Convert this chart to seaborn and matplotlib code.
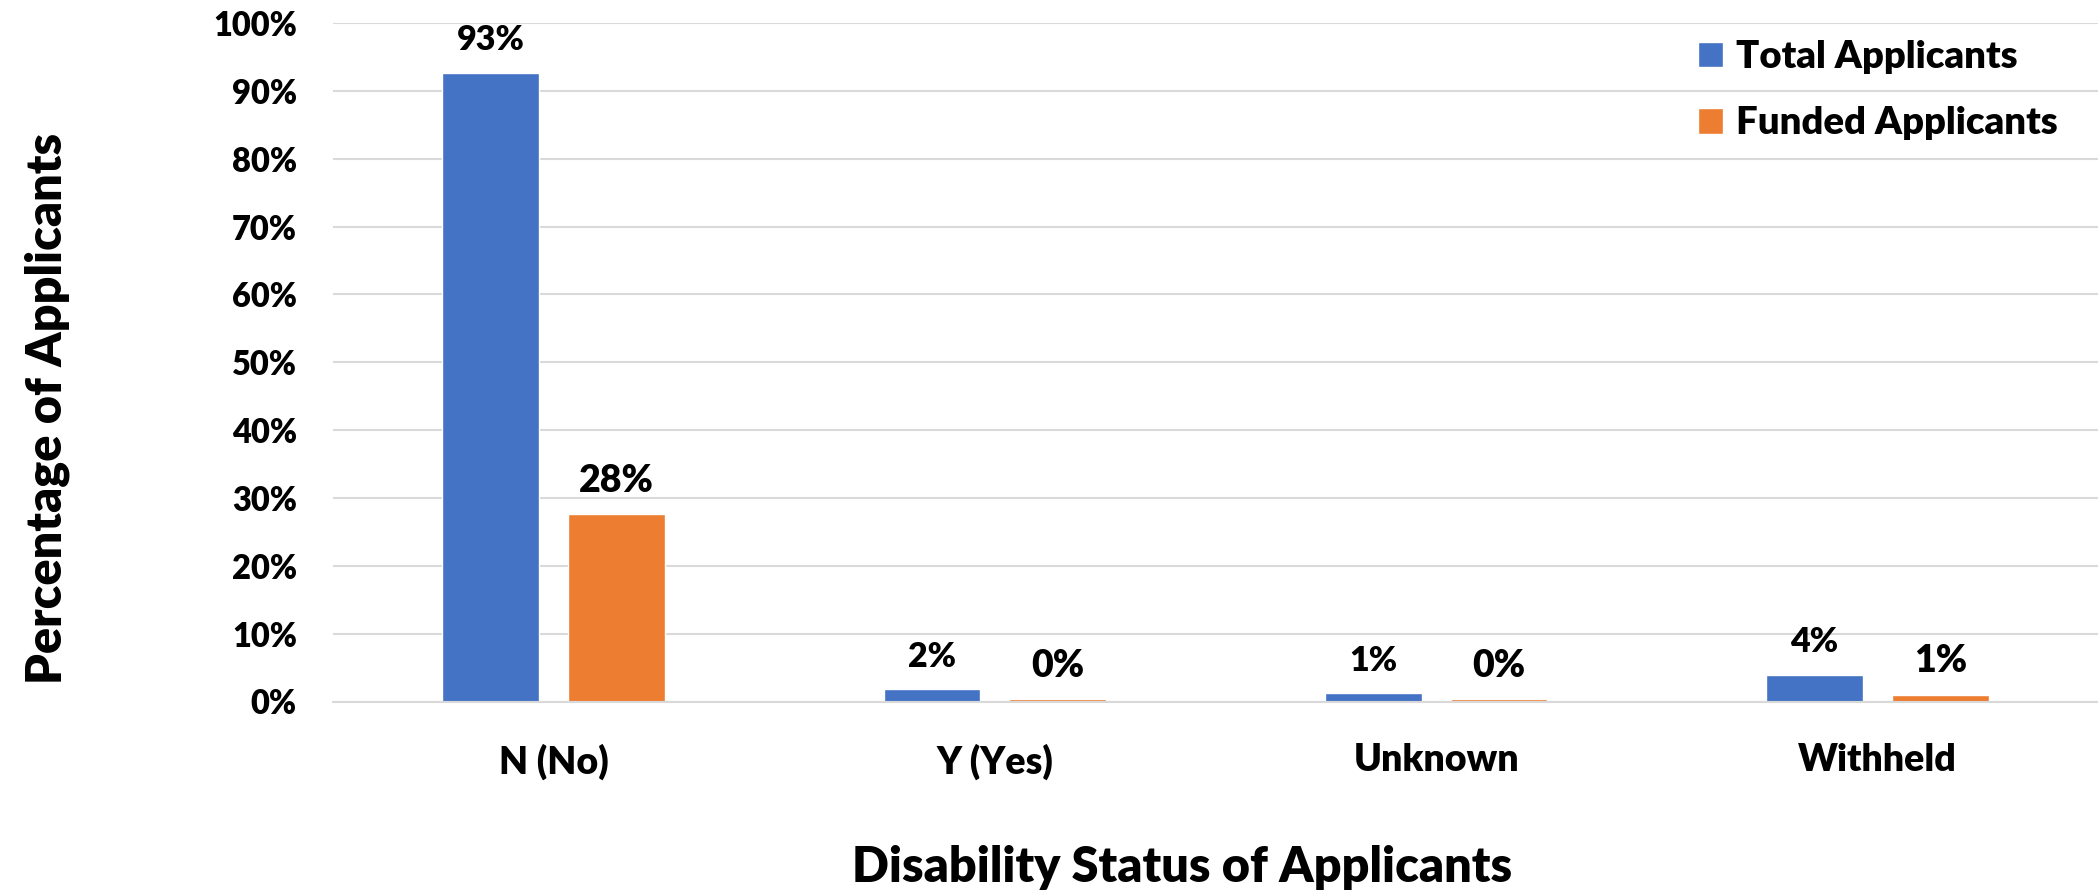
import matplotlib
matplotlib.use('Agg')
import matplotlib.pyplot as plt
import seaborn as sns
import pandas as pd

# data
categories = ['N (No)', 'Y (Yes)', 'Unknown', 'Withheld']
total_applicants = [92.7, 1.8, 1.2, 3.9]
funded_applicants = [27.6, 0.3, 0.3, 1.0]
series_names = ['Total Applicants', 'Funded Applicants']
y_ticks = [0, 10, 20, 30, 40, 50, 60, 70, 80, 90, 100]

colors = ['#4472C4', '#ED7D31']
grid_col = '#D9D9D9'
wt = 'heavy'

df = pd.DataFrame({
    'category': categories * 2,
    'series': [series_names[0]] * len(categories) + [series_names[1]] * len(categories),
    'value': total_applicants + funded_applicants,
})

sns.set_style('white')
plt.rcParams['font.family'] = ['Lato', 'DejaVu Sans']
plt.rcParams['font.weight'] = wt
plt.rcParams['text.color'] = 'black'
plt.rcParams['xtick.color'] = 'black'
plt.rcParams['ytick.color'] = 'black'

fig = plt.figure(figsize=(20.98, 8.92), dpi=100)
ax = fig.add_axes([333 / 2098, 1 - 701.5 / 892, 1 - 333 / 2098, (701.5 - 23) / 892])

sns.barplot(data=df, x='category', y='value', hue='series', order=categories,
            hue_order=series_names, palette=colors, width=0.57, gap=0.23,
            saturation=1, ax=ax, legend=True)

ax.set_ylim(0, 100)
ax.set_xlim(-0.5, 3.5)
ax.set_yticks(y_ticks)
ax.set_yticklabels([f'{t}%' for t in y_ticks])
ax.yaxis.grid(True, color=grid_col, lw=1.5)
ax.set_axisbelow(True)
for s in ['top', 'right', 'left']:
    ax.spines[s].set_visible(False)
ax.spines['bottom'].set_color(grid_col)
ax.spines['bottom'].set_linewidth(1.5)

ax.tick_params(axis='y', length=0, pad=26, labelsize=23.5, labelcolor='black')
ax.tick_params(axis='x', which='major', length=0, pad=30, labelsize=27, labelcolor='black')
ax.set_xticks([-0.5, 0.5, 1.5, 2.5], minor=True)
ax.tick_params(axis='x', which='minor', length=14, width=1.5, color=grid_col, direction='out')
for lab in ax.get_xticklabels() + ax.get_yticklabels():
    lab.set_fontweight(wt)

ax.set_xlabel('')
ax.set_ylabel('')

# data labels
label_sizes = [24.5, 27]
for cont, vals, fs in zip(ax.containers, [total_applicants, funded_applicants], label_sizes):
    ax.bar_label(cont, labels=[f'{v:.0f}%' for v in vals], padding=12,
                 fontsize=fs, fontweight=wt, color='black')

fig.text(47 / 2098, 1 - 408 / 892, 'Percentage of Applicants', rotation=90,
         ha='center', va='center', fontsize=35, fontweight=wt, color='black')
fig.text(1182 / 2098, 1 - 882 / 892, 'Disability Status of Applicants',
         ha='center', va='baseline', fontsize=35, fontweight=wt, color='black')

leg = ax.legend(loc='upper left', bbox_to_anchor=(1698 / 2098, 1 - 40 / 892),
                bbox_transform=fig.transFigure, frameon=False, fontsize=27.5,
                handlelength=0.65, handleheight=0.65, handletextpad=0.35,
                labelspacing=0.85, borderpad=0, borderaxespad=0, title=None)
for t in leg.get_texts():
    t.set_fontweight(wt)
    t.set_color('black')

fig.savefig('out.png', dpi=100)
